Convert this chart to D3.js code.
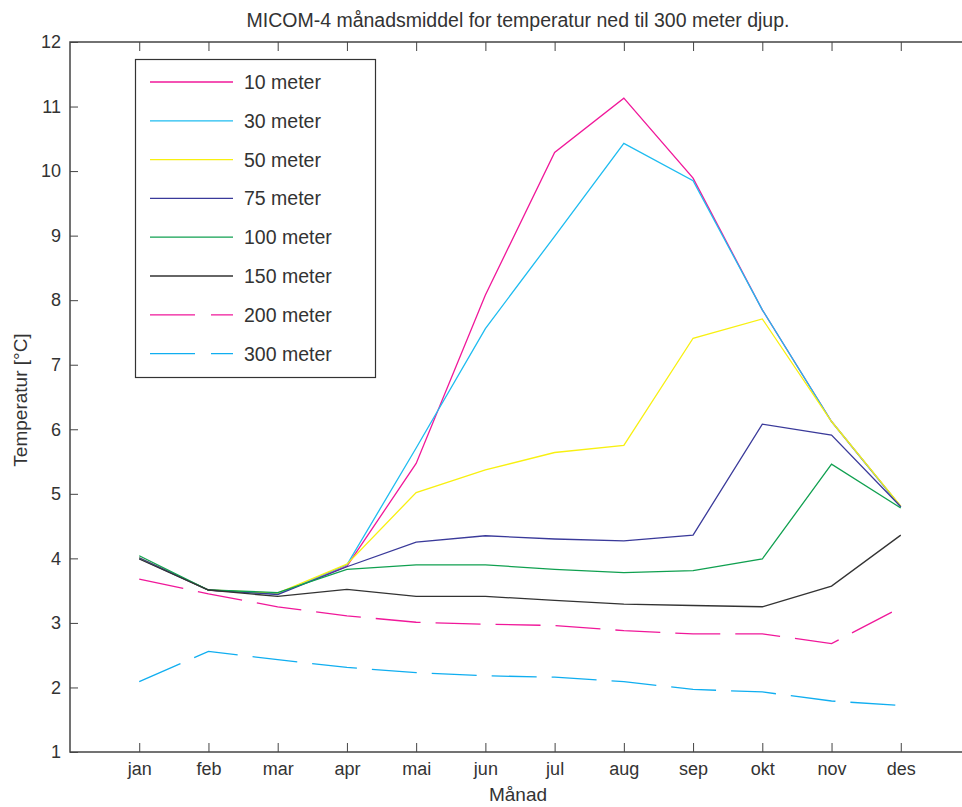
<!DOCTYPE html>
<html lang="no">
<head>
    <meta charset="UTF-8">
    <title>MICOM-4 temperatur</title>
    <script src="https://cdn.jsdelivr.net/npm/d3@7"></script>
    <style>
        html, body {
            margin: 0;
            padding: 0;
            background: #fff;
        }
        svg text {
            font-family: "Liberation Sans", Arial, Helvetica, sans-serif;
            fill: #333;
        }
        .axis path, .axis line {
            stroke: #444;
        }
    </style>
</head>
<body>
<div id="chart"></div>
<script>
    // månader og serier (avlese fra figuren)
    var months = ["jan", "feb", "mar", "apr", "mai", "jun", "jul", "aug", "sep", "okt", "nov", "des"];
    var yTicks = [1, 2, 3, 4, 5, 6, 7, 8, 9, 10, 11, 12];

    var t10  = [4.00, 3.51, 3.45, 3.88, 5.47, 8.08, 10.29, 11.13, 9.89, 7.85, 6.12, 4.80];
    var t30  = [4.00, 3.51, 3.45, 3.90, 5.71, 7.56, 8.99, 10.43, 9.85, 7.85, 6.12, 4.80];
    var t50  = [4.01, 3.51, 3.46, 3.91, 5.02, 5.37, 5.64, 5.75, 7.41, 7.71, 6.12, 4.81];
    var t75  = [4.01, 3.51, 3.44, 3.87, 4.25, 4.35, 4.30, 4.27, 4.36, 6.08, 5.91, 4.80];
    var t100 = [4.04, 3.51, 3.47, 3.83, 3.90, 3.90, 3.83, 3.78, 3.81, 3.99, 5.46, 4.78];
    var t150 = [3.99, 3.51, 3.41, 3.52, 3.41, 3.41, 3.35, 3.29, 3.27, 3.25, 3.57, 4.36];
    var t200 = [3.68, 3.45, 3.25, 3.11, 3.01, 2.98, 2.96, 2.88, 2.83, 2.83, 2.68, 3.24];
    var t300 = [2.09, 2.56, 2.43, 2.31, 2.23, 2.18, 2.16, 2.09, 1.97, 1.93, 1.79, 1.72];

    var seriesNames = ["10 meter", "30 meter", "50 meter", "75 meter", "100 meter", "150 meter", "200 meter", "300 meter"];
    var seriesData = [t10, t30, t50, t75, t100, t150, t200, t300];
    var seriesColors = ["#f0189a", "#1ebcf0", "#f8f010", "#3a3a9a", "#10a050", "#333333", "#f0189a", "#10aef0"];
    var seriesDash = [null, null, null, null, null, null, "45,15", "45,15"];

    var W = 962, H = 807;
    // NB: "top" er opptatt av window.top, bruk egne navn
    var pL = 70, pT = 42, pR = 970, pB = 752;

    var svg = d3.select("#chart").append("svg")
        .attr("width", W)
        .attr("height", H);

    var x = d3.scaleLinear().domain([0, 13]).range([pL, pR]);
    var y = d3.scaleLinear().domain([1, 12]).range([pB, pT]);

    // akser (tikker innover som i matlab)
    svg.append("g").attr("class", "axis")
        .attr("transform", "translate(" + pL + ",0)")
        .call(d3.axisLeft(y).tickValues(yTicks).tickSize(-8).tickPadding(9).tickFormat(d3.format("d")))
        .call(function (g) {
            g.select(".domain").remove();
            g.selectAll("text").style("font-size", "18px").attr("fill", "#333");
        });

    svg.append("g").attr("class", "axis")
        .attr("transform", "translate(" + pR + ",0)")
        .call(d3.axisRight(y).tickValues(yTicks).tickSize(-8).tickFormat(""))
        .call(function (g) { g.select(".domain").remove(); });

    svg.append("g").attr("class", "axis")
        .attr("transform", "translate(0," + pB + ")")
        .call(d3.axisBottom(x).tickValues(d3.range(1, 13)).tickSize(-9).tickPadding(10)
            .tickFormat(function (d) { return months[d - 1]; }))
        .call(function (g) {
            g.select(".domain").remove();
            g.selectAll("text").style("font-size", "18px").attr("fill", "#333");
        });

    svg.append("g").attr("class", "axis")
        .attr("transform", "translate(0," + pT + ")")
        .call(d3.axisTop(x).tickValues(d3.range(1, 13)).tickSize(-9).tickFormat(""))
        .call(function (g) { g.select(".domain").remove(); });

    svg.append("rect")
        .attr("x", pL).attr("y", pT)
        .attr("width", pR - pL).attr("height", pB - pT)
        .attr("fill", "none")
        .attr("stroke", "#444")
        .attr("stroke-width", 1.5);

    // linjer
    var line = d3.line()
        .x(function (d, i) { return x(i + 1); })
        .y(function (d) { return y(d); });

    seriesData.forEach(function (s, k) {
        svg.append("path")
            .datum(s)
            .attr("d", line)
            .attr("fill", "none")
            .attr("stroke", seriesColors[k])
            .attr("stroke-width", 1.3)
            .attr("stroke-dasharray", seriesDash[k]);
    });

    // tekst
    svg.append("text")
        .attr("x", 518)
        .attr("y", 27)
        .attr("text-anchor", "middle")
        .style("font-size", "19.5px")
        .text("MICOM-4 månadsmiddel for temperatur ned til 300 meter djup.");

    svg.append("text")
        .attr("x", 518)
        .attr("y", 801)
        .attr("text-anchor", "middle")
        .style("font-size", "19px")
        .text("Månad");

    svg.append("text")
        .attr("transform", "translate(27,400) rotate(-90)")
        .attr("text-anchor", "middle")
        .style("font-size", "19px")
        .text("Temperatur [°C]");

    // legende
    var lg = svg.append("g");
    lg.append("rect")
        .attr("x", 135.5).attr("y", 59.5)
        .attr("width", 240).attr("height", 318)
        .attr("fill", "#fff")
        .attr("stroke", "#333")
        .attr("stroke-width", 1.2);

    seriesNames.forEach(function (name, k) {
        var ly = 82 + k * 38.8;
        lg.append("line")
            .attr("x1", 150).attr("x2", 233)
            .attr("y1", ly).attr("y2", ly)
            .attr("stroke", seriesColors[k])
            .attr("stroke-width", 1.3)
            .attr("stroke-dasharray", seriesDash[k] ? "45,16" : null);
        lg.append("text")
            .attr("x", 244)
            .attr("y", ly + 7)
            .style("font-size", "19.5px")
            .text(name);
    });
</script>
</body>
</html>
